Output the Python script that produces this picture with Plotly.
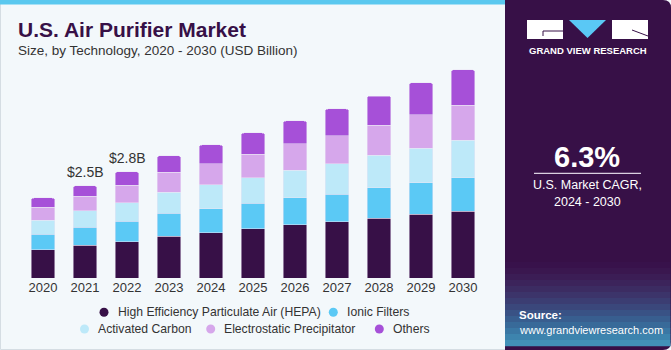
import plotly.graph_objects as go

years = ["2020", "2021", "2022", "2023", "2024", "2025", "2026", "2027", "2028", "2029", "2030"]
hepa = [0.75, 0.87, 0.97, 1.11, 1.21, 1.31, 1.41, 1.49, 1.59, 1.69, 1.78]
ionic = [0.41, 0.48, 0.54, 0.61, 0.63, 0.68, 0.73, 0.74, 0.81, 0.84, 0.89]
activated = [0.38, 0.44, 0.49, 0.56, 0.64, 0.68, 0.72, 0.81, 0.86, 0.92, 1.00]
electro = [0.34, 0.38, 0.47, 0.53, 0.56, 0.62, 0.71, 0.75, 0.80, 0.89, 0.93]
others = [0.25, 0.29, 0.36, 0.44, 0.50, 0.57, 0.61, 0.71, 0.78, 0.86, 0.94]
series_names = ["High Efficiency Particulate Air (HEPA)", "Ionic Filters", "Activated Carbon",
                "Electrostatic Precipitator", "Others"]
series_vals = [hepa, ionic, activated, electro, others]
colors = ["#371047", "#5bc9f5", "#bde9f9", "#d6a7eb", "#a650d8"]
value_labels = {"2021": "$2.5B", "2022": "$2.8B"}

W, H = 671, 350
L, R, T, B = 22, 187, 60, 72
PW, PH = W - L - R, H - T - B
BASE = H - B
YMAX = PH * 0.0266

def xp(px):
    return (px - L) / PW

def yp(py):
    return (BASE - py) / PH

FONT = "Liberation Sans, Arial, sans-serif"
DARK = "#371047"

fig = go.Figure()
for name, vals, col in zip(series_names, series_vals, colors):
    fig.add_trace(go.Bar(x=years, y=vals, name=name,
                         marker=dict(color=col, line=dict(color="rgba(235,228,245,0.7)", width=0.7)),
                         showlegend=False, hoverinfo="skip"))

totals = [sum(v) for v in zip(*series_vals)]
annotations = []
for i, (yr, tot) in enumerate(zip(years, totals)):
    if yr in value_labels:
        annotations.append(dict(x=i, y=tot, xref="x", yref="y", text=value_labels[yr], showarrow=False,
                                yanchor="middle", yshift=14, font=dict(size=14, color="#333333", family=FONT)))

shapes = []
# left panel border and top stripe
shapes.append(dict(type="rect", xref="paper", yref="paper", x0=xp(0.5), x1=xp(520), y0=yp(349.5), y1=yp(0.5),
                   line=dict(color="#d5dde3", width=1), fillcolor="#f3f8fb", layer="below"))
shapes.append(dict(type="rect", xref="paper", yref="paper", x0=xp(0), x1=xp(520), y0=yp(4.5), y1=yp(0),
                   line=dict(width=0), fillcolor="#5ac8ef", layer="below"))

# dark right panel with rounded right corners
x0p, x1p, r = 505, 671, 8
path = (f"M {xp(x0p)},{yp(0)} L {xp(x1p - r)},{yp(0)} Q {xp(x1p)},{yp(0)} {xp(x1p)},{yp(r)} "
        f"L {xp(x1p)},{yp(350 - r)} Q {xp(x1p)},{yp(350)} {xp(x1p - r)},{yp(350)} L {xp(x0p)},{yp(350)} Z")
shapes.append(dict(type="path", xref="paper", yref="paper", path=path, fillcolor=DARK, line=dict(width=0), layer="below"))
# bottom gradient of panel
grad = ["#38124b", "#3a174f", "#3b1d55", "#3c245b", "#3c2c62", "#3c346a", "#3b3d72", "#3a477b",
        "#395285", "#385e8f", "#386a99", "#3a77a4", "#3d84ae", "#4291b8"]
gy0, gy1 = 262, 346
step = (gy1 - gy0) / len(grad)
for i, c in enumerate(grad):
    shapes.append(dict(type="rect", xref="paper", yref="paper", x0=xp(x0p), x1=xp(x1p - 0.5),
                       y0=yp(gy0 + (i + 1) * step + 0.3), y1=yp(gy0 + i * step), fillcolor=c, line=dict(width=0), layer="below"))

# logo
shapes.append(dict(type="rect", xref="paper", yref="paper", x0=xp(527), x1=xp(563), y0=yp(39), y1=yp(20),
                   fillcolor="white", line=dict(width=0)))
shapes.append(dict(type="rect", xref="paper", yref="paper", x0=xp(612), x1=xp(648), y0=yp(39), y1=yp(20),
                   fillcolor="white", line=dict(width=0)))
shapes.append(dict(type="path", xref="paper", yref="paper",
                   path=f"M {xp(569)},{yp(20)} L {xp(606)},{yp(20)} L {xp(587.5)},{yp(38)} Z",
                   fillcolor="#5ac8f5", line=dict(width=0)))
shapes.append(dict(type="path", xref="paper", yref="paper",
                   path=f"M {xp(543)},{yp(31)} L {xp(563)},{yp(31)} M {xp(543)},{yp(31)} L {xp(543)},{yp(36)}",
                   line=dict(color=DARK, width=1)))
shapes.append(dict(type="path", xref="paper", yref="paper",
                   path=f"M {xp(632)},{yp(30)} L {xp(648)},{yp(36)}",
                   line=dict(color=DARK, width=1)))
# CAGR divider
shapes.append(dict(type="line", xref="paper", yref="paper", x0=xp(534), x1=xp(641), y0=yp(173.3), y1=yp(173.3),
                   line=dict(color="#d9d0e0", width=1.2)))

# legend markers (manual)
legend_items = [
    (0, 104, 312.3, 116),
    (1, 333.3, 312.3, 345),
    (2, 84.5, 329, 96),
    (3, 210.7, 329, 221.7),
    (4, 379.3, 329, 391),
]
for idx, mx, my, tx in legend_items:
    shapes.append(dict(type="circle", xref="paper", yref="paper", xsizemode="pixel", ysizemode="pixel",
                       xanchor=xp(mx), yanchor=yp(my), x0=-4.5, x1=4.5, y0=-4.5, y1=4.5,
                       fillcolor=colors[idx], line=dict(width=0)))
    annotations.append(dict(x=xp(tx), y=yp(my), xref="paper", yref="paper", xanchor="left", yanchor="middle",
                            text=series_names[idx], showarrow=False,
                            font=dict(size=12.2, color="#333333", family=FONT)))

# titles
annotations.append(dict(x=xp(16), y=yp(29), xref="paper", yref="paper", xanchor="left", yanchor="middle",
                        text="<b>U.S. Air Purifier Market</b>", showarrow=False,
                        font=dict(size=21, color=DARK, family=FONT)))
annotations.append(dict(x=xp(16), y=yp(50), xref="paper", yref="paper", xanchor="left", yanchor="middle",
                        text="Size, by Technology, 2020 - 2030 (USD Billion)", showarrow=False,
                        font=dict(size=13.5, color="#333333", family=FONT)))

# right panel texts
annotations.append(dict(x=xp(587.5), y=yp(50.7), xref="paper", yref="paper", xanchor="center", yanchor="middle",
                        text="<b>GRAND VIEW RESEARCH</b>", showarrow=False,
                        font=dict(size=9.5, color="white", family=FONT)))
annotations.append(dict(x=xp(587), y=yp(156.5), xref="paper", yref="paper", xanchor="center", yanchor="middle",
                        text="<b>6.3%</b>", showarrow=False,
                        font=dict(size=29, color="white", family=FONT)))
annotations.append(dict(x=xp(587.5), y=yp(185), xref="paper", yref="paper", xanchor="center", yanchor="middle",
                        text="U.S. Market CAGR,", showarrow=False,
                        font=dict(size=12.5, color="white", family=FONT)))
annotations.append(dict(x=xp(587.5), y=yp(201.7), xref="paper", yref="paper", xanchor="center", yanchor="middle",
                        text="2024 - 2030", showarrow=False,
                        font=dict(size=12.5, color="white", family=FONT)))
annotations.append(dict(x=xp(517), y=yp(315), xref="paper", yref="paper", xanchor="left", yanchor="middle",
                        text="<b>Source:</b>", showarrow=False,
                        font=dict(size=11.5, color="white", family=FONT)))
annotations.append(dict(x=xp(517), y=yp(329.5), xref="paper", yref="paper", xanchor="left", yanchor="middle",
                        text="www.grandviewresearch.com", showarrow=False,
                        font=dict(size=11, color="white", family=FONT)))

fig.update_layout(
    width=W, height=H,
    margin=dict(l=L, r=R, t=T, b=B, pad=0),
    paper_bgcolor="#f3f8fb", plot_bgcolor="rgba(0,0,0,0)",
    barmode="stack", bargap=0.43, barcornerradius=3,
    showlegend=False,
    shapes=shapes, annotations=annotations,
    xaxis=dict(type="category", range=[-0.5, 10.5], showgrid=False, showline=False, zeroline=False,
               ticks="", tickfont=dict(size=13, color="#333333", family=FONT), fixedrange=True),
    yaxis=dict(range=[0, YMAX], visible=False, fixedrange=True),
)

fig.write_html("out.html")
